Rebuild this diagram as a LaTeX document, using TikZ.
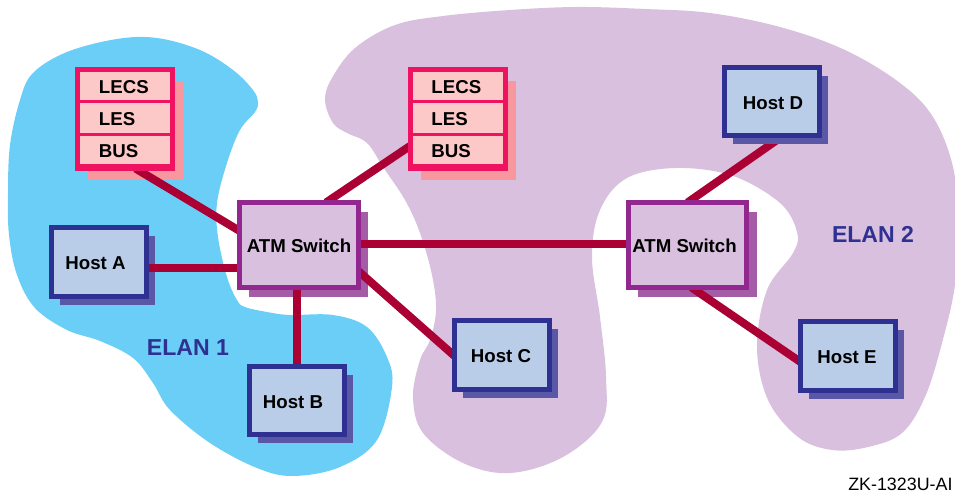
\documentclass[tikz,border=0pt]{standalone}
\usepackage{fontspec}
\setmainfont{Liberation Sans}
\usetikzlibrary{calc}
\pgfdeclarelayer{blobs}\pgfdeclarelayer{low}\pgfdeclarelayer{shade}\pgfdeclarelayer{wires}
\pgfsetlayers{blobs,low,shade,wires,main}
\definecolor{elanblue}{HTML}{6BCEF6}
\definecolor{elanpurple}{HTML}{D9C0DE}
\definecolor{wirecol}{HTML}{AA0033}
\definecolor{hostedge}{HTML}{2E3192}
\definecolor{hostfill}{HTML}{B9CDE9}
\definecolor{hostshade}{HTML}{5A57A6}
\definecolor{swedge}{HTML}{92278F}
\definecolor{swshade}{HTML}{A45CA6}
\definecolor{lecsedge}{HTML}{EF1260}
\definecolor{lecsfill}{HTML}{FDC8C8}
\definecolor{lecsshade}{HTML}{F9979F}
\newcommand{\cellt}[1]{\makebox[71.25pt][l]{\hspace*{16.1pt}#1}}
\tikzset{
  base/.style={inner sep=0pt,outer sep=0pt,font=\fontsize{14}{16}\selectfont\bfseries,text=black,text height=11.5pt,text depth=0pt},
  hostbox/.style={base,draw=hostedge,fill=hostfill,line width=3.75pt,minimum width=71.25pt,minimum height=51.5pt},
  hostshadow/.style={base,fill=hostshade,minimum width=71.25pt,minimum height=51.5pt},
  swbox/.style={base,draw=swedge,fill=elanpurple,line width=3.75pt,minimum width=88.9pt,minimum height=63.75pt},
  swshadow/.style={base,fill=swshade,minimum width=89.25pt,minimum height=63.75pt},
  lecsframe/.style={base,draw=lecsedge,line width=3.75pt,minimum width=71.25pt,minimum height=74.25pt},
  lecsshadow/.style={base,fill=lecsshade,minimum width=71.25pt,minimum height=74.25pt},
  lecscell/.style={base,draw=lecsedge,fill=lecsfill,line width=1.9pt,minimum width=71.25pt},
  wire/.style={draw=wirecol,line width=6pt},
  elan/.style={inner sep=0pt,font=\fontsize{17.3}{20}\selectfont\bfseries,text=hostedge},
  blobfill/.style={smooth cycle,tension=0.6}
}
\begin{document}
\begin{tikzpicture}[x=0.75pt,y=-0.75pt]
\useasboundingbox (0,0) rectangle (955,491);
\begin{pgfonlayer}{blobs}
\begin{scope}
\clip (0,0) rectangle (955,491);
\fill[elanblue] plot[blobfill] coordinates {
 (33,73) (67,52) (117,39) (157,38) (200,50) (233,70) (253,90) (258,102) (255,112) (240,130)
 (227,163) (217,203) (218,237) (227,277) (237,300) (245,307) (267,312)
 (290,315) (333,315) (367,327) (387,357) (392,387) (377,440) (340,467) (293,476) (257,468)
 (210,443) (170,410) (153,383) (133,358) (100,341) (67,330) (35,308) (17,275) (9,235) (8,193) (10,145) (20,100)};
\fill[elanpurple] plot[blobfill] coordinates {
 (325,100) (333,123) (347,133) (367,143) (383,167) (405,200) (420,233) (432,275) (436,310) (430,340) (420,360) (413,397)
 (423,433) (463,463) (510,473) (563,457) (602,422) (606,377) (600,317) (592,257) (600,210)
 (627,178) (677,168) (733,176) (780,203) (797,232) (793,253) (767,290) (757,347) (768,400)
 (798,437) (832,450) (868,447) (902,433) (925,397) (942,343) (955,285) (958,225) (953,167) (933,117) (900,83) (845,50)
 (780,27) (710,13) (645,9) (577,7) (510,10) (443,16) (395,25) (355,48) (332,78)};
\end{scope}
\end{pgfonlayer}

% shadows
\begin{pgfonlayer}{shade}
\node[lecsshadow] (sLa) at (135.5,130.5) {};
\node[lecsshadow] (sLb) at (468,130.5) {};
\node[hostshadow] (sA) at (107.5,270.5) {};
\node[hostshadow] (sB) at (305.5,409) {};
\node[hostshadow] (sC) at (510.5,363.5) {};
\node[hostshadow] (sD) at (780.5,110) {};
\node[hostshadow] (sE) at (856.5,364.5) {};
\node[swshadow] (sS1) at (308.5,254.5) {};
\node[swshadow] (sS2) at (697,254.5) {};
\end{pgfonlayer}

% boxes
\node[lecscell,minimum height=24.75pt] (la1) at (125,86) {\cellt{LECS}};
\node[lecscell,minimum height=24.75pt] (la2) at (125,118) {\cellt{LES}};
\node[lecscell,minimum height=22.5pt] (la3) at (125,150) {\cellt{BUS}};
\node[lecsframe] (lecsA) at (125,119) {};
\node[lecscell,minimum height=24.75pt] (lb1) at (457.5,86) {\cellt{LECS}};
\node[lecscell,minimum height=24.75pt] (lb2) at (457.5,118) {\cellt{LES}};
\node[lecscell,minimum height=22.5pt] (lb3) at (457.5,150) {\cellt{BUS}};
\node[lecsframe] (lecsB) at (457.5,119) {};
\node[hostbox] (hostA) at (99,262) {Host A\kern5.25pt};
\node[hostbox] (hostB) at (297,400.5) {Host B\kern6pt};
\node[hostbox] (hostC) at (502,355) {Host C\kern1.5pt};
\node[hostbox] (hostD) at (772,101.5) {\kern1.5pt Host D};
\node[hostbox] (hostE) at (848,356) {Host E\kern1.5pt};
\node[swbox] (sw1) at (299,245) {ATM Switch};
\node[swbox] (sw2) at (687.5,245) {ATM Switch\kern4.5pt};

% connectors
\begin{pgfonlayer}{low}
\draw[wire] ($(sw2.north)+(0,0)$) -- ($(hostD.south)+(11,0)$);
\end{pgfonlayer}
\begin{pgfonlayer}{wires}
\draw[wire] ($(lecsA.south)+(10.5,0)$) -- ($(sw1.west)+(0,-14)$);
\draw[wire] ($(hostA.east)+(0,6)$) -- ($(sw1.west)+(0,23)$);
\draw[wire] ($(sw1.south)+(-2,0)$) -- (hostB.north);
\draw[wire] ($(sw1.north)+(27,0)$) -- ($(lecsB.west)+(0,27)$);
\draw[wire] ($(sw1.east)+(0,-1)$) -- ($(sw2.west)+(0,-1)$);
\draw[wire] ($(sw1.east)+(0,26)$) -- ($(hostC.west)+(0,1)$);
\draw[wire] ($(sw2.south)+(4,0)$) -- ($(hostE.west)+(0,6)$);
\end{pgfonlayer}

\node[elan] (elanA) at (188,347.5) {ELAN 1};
\node[elan] (elanB) at (873,234) {ELAN 2};
\node[inner sep=0pt,anchor=west,font=\fontsize{13.4}{16}\selectfont] (tag) at (848,484) {ZK-1323U-AI};
\end{tikzpicture}
\end{document}
